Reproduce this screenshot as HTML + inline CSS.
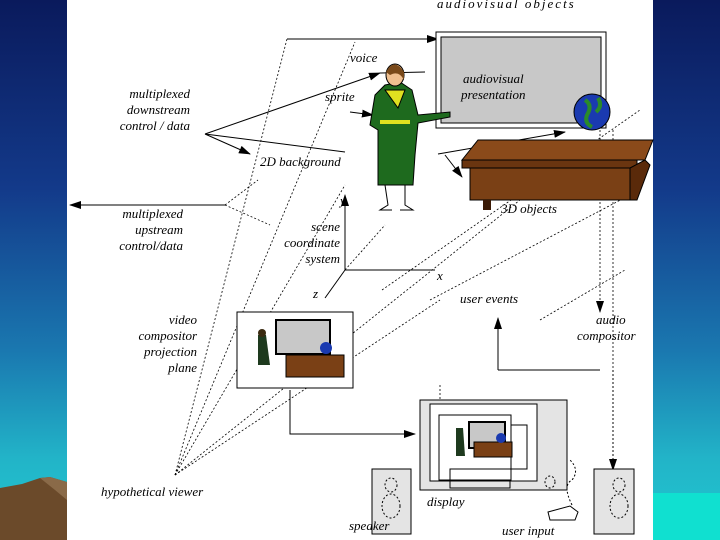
<!DOCTYPE html>
<html><head><meta charset="utf-8"><style>
html,body{margin:0;padding:0;width:720px;height:540px;overflow:hidden}
body{background:linear-gradient(#0a1a5c 0%,#133a8a 35%,#1a78b0 65%,#22b4c8 85%,#20c8d0 100%)}
svg{position:absolute;left:0;top:0}
text{font-family:"Liberation Serif",serif;font-style:italic;font-size:13px;fill:#000}
</style></head><body>
<svg width="720" height="540" viewBox="0 0 720 540">
<defs><marker id="a" markerWidth="12" markerHeight="8" refX="11" refY="4" orient="auto" markerUnits="userSpaceOnUse"><path d="M0,0L12,4L0,8z" fill="#000"/></marker></defs>
<rect x="653" y="493" width="67" height="47" fill="#10e0d0"/>
<path d="M0,540 L0,488 L22,484 L40,478 L50,477 L67,482 L67,540z" fill="#6b4a2a"/>
<path d="M40,478 L50,477 L67,482 L67,500 L55,490z" fill="#8a6a48"/>
<rect x="67" y="0" width="586" height="540" fill="#fff"/>
<g stroke="#000" fill="none" stroke-width="1">
<line x1="287" y1="39" x2="438" y2="39" marker-end="url(#a)"/>
<line x1="205" y1="134" x2="380" y2="73" marker-end="url(#a)"/>
<line x1="380" y1="73" x2="425" y2="72"/>
<line x1="205" y1="134" x2="345" y2="152"/>
<line x1="205" y1="134" x2="250" y2="154" marker-end="url(#a)"/>
<line x1="350" y1="112" x2="373" y2="115" marker-end="url(#a)"/>
<line x1="438" y1="154" x2="565" y2="132" marker-end="url(#a)"/>
<line x1="445" y1="155" x2="462" y2="177" marker-end="url(#a)"/>
<line x1="225" y1="205" x2="70" y2="205" marker-end="url(#a)"/>
<line x1="345" y1="270" x2="345" y2="195" marker-end="url(#a)"/>
<line x1="345" y1="270" x2="435" y2="270"/>
<line x1="345" y1="270" x2="325" y2="298"/>
<line x1="498" y1="370" x2="498" y2="318" marker-end="url(#a)"/>
<line x1="498" y1="370" x2="600" y2="370"/>
<path d="M290,390 L290,434 L415,434" marker-end="url(#a)"/>
</g>
<g stroke="#000" fill="none" stroke-width="0.8" stroke-dasharray="2,2">
<line x1="175" y1="475" x2="287" y2="39"/>
<line x1="175" y1="475" x2="355" y2="42"/>
<line x1="175" y1="475" x2="345" y2="185"/>
<line x1="175" y1="475" x2="440" y2="300"/>
<line x1="175" y1="475" x2="520" y2="200"/>
<line x1="225" y1="205" x2="258" y2="180"/>
<line x1="225" y1="205" x2="270" y2="225"/>
<line x1="345" y1="270" x2="385" y2="225"/>
<line x1="382" y1="290" x2="640" y2="110"/>
<line x1="430" y1="300" x2="630" y2="195"/>
<line x1="540" y1="320" x2="625" y2="270"/>
<line x1="600" y1="130" x2="600" y2="312" marker-end="url(#a)"/>
<line x1="613" y1="130" x2="613" y2="470"/>
<line x1="613" y1="370" x2="613" y2="470" marker-end="url(#a)"/>
<line x1="440" y1="385" x2="440" y2="400"/>
</g>
<rect x="436" y="32" width="170" height="96" fill="#fff" stroke="#000"/>
<rect x="441" y="37" width="160" height="86" fill="#c8c8c8" stroke="#000"/>
<path d="M462,160 L478,140 L653,140 L645,160 Z" fill="#8a4a1a" stroke="#000"/>
<rect x="462" y="160" width="175" height="8" fill="#6a3510" stroke="#000"/>
<path d="M470,168 L630,168 L630,200 L470,200 Z" fill="#7a4015" stroke="#000"/>
<path d="M630,168 L645,160 L650,165 L637,200 L630,200z" fill="#5a2a0a" stroke="#000"/>
<rect x="483" y="200" width="8" height="10" fill="#3a1a05"/>
<circle cx="592" cy="112" r="18" fill="#1a3ab0" stroke="#000"/>
<path d="M585,100 q8,5 2,15 q-3,8 5,12 M598,98 q5,8 -2,14" stroke="#2a8a2a" stroke-width="4" fill="none"/>
<path d="M385,85 L400,82 L412,90 L418,115 L450,112 L450,117 L418,123 L415,155 L413,185 L378,185 L378,130 L370,125 L375,95Z" fill="#1e6a1e" stroke="#000"/>
<ellipse cx="395" cy="75" rx="9" ry="11" fill="#f0c090" stroke="#000"/>
<path d="M386,72 q8,-15 18,0 l0,8 q-5,-10 -14,-5 z" fill="#7a4a1a"/>
<path d="M385,90 L405,90 L398,108 Z" fill="#e0e020" stroke="#000"/>
<rect x="380" y="120" width="30" height="4" fill="#e0e020"/>
<path d="M385,185 L388,205 L380,210 L392,210 M405,185 L405,205 L413,210 L400,210" stroke="#000" fill="none"/>
<rect x="237" y="312" width="116" height="76" fill="#fff" stroke="#000"/>
<rect x="276" y="320" width="54" height="34" fill="#c8c8c8" stroke="#000" stroke-width="2"/>
<rect x="286" y="355" width="58" height="22" fill="#7a4015" stroke="#000"/>
<circle cx="326" cy="348" r="6" fill="#1a3ab0"/>
<path d="M258,335 l8,0 l4,30 l-12,0z" fill="#1e3a1e"/>
<circle cx="262" cy="333" r="4" fill="#3a2a10"/>
<rect x="420" y="400" width="147" height="90" fill="#e4e4e4" stroke="#000"/>
<rect x="430" y="404" width="107" height="77" fill="#fff" stroke="#000"/>
<path d="M440,418 L510,418 L510,488 L450,488 L450,426 L440,426" fill="none" stroke="#000"/>
<rect x="439" y="415" width="72" height="65" fill="#fff" stroke="#000"/>
<path d="M511,425 L527,425 L527,469 L450,469 L450,480" fill="none" stroke="#000"/>
<rect x="469" y="422" width="36" height="26" fill="#c8c8c8" stroke="#000" stroke-width="2"/>
<rect x="474" y="442" width="38" height="15" fill="#7a4015" stroke="#000"/>
<circle cx="501" cy="438" r="5" fill="#1a3ab0"/>
<path d="M456,428 l7,0 l2,28 l-9,0z" fill="#1e3a1e"/>
<ellipse cx="550" cy="482" rx="5" ry="6" fill="none" stroke="#000" stroke-dasharray="2,2"/>
<rect x="372" y="469" width="39" height="65" fill="#e4e4e4" stroke="#000"/>
<ellipse cx="391" cy="485" rx="6" ry="7" fill="none" stroke="#000" stroke-dasharray="2,2"/>
<ellipse cx="391" cy="506" rx="9" ry="12" fill="none" stroke="#000" stroke-dasharray="2,2"/>
<rect x="594" y="469" width="40" height="65" fill="#e4e4e4" stroke="#000"/>
<ellipse cx="619" cy="485" rx="6" ry="7" fill="none" stroke="#000" stroke-dasharray="2,2"/>
<ellipse cx="619" cy="506" rx="9" ry="12" fill="none" stroke="#000" stroke-dasharray="2,2"/>
<path d="M548,512 L570,506 L578,512 L575,520 L550,520Z" fill="#fff" stroke="#000"/>
<path d="M572,505 q-10,-20 0,-25 q8,-10 -2,-20" stroke="#000" fill="none" stroke-dasharray="2,2"/>
<g font-size="13">
<text x="437" y="8" letter-spacing="2">audiovisual objects</text>
<text x="350" y="62">voice</text>
<text x="325" y="101">sprite</text>
<text x="463" y="83">audiovisual</text>
<text x="461" y="99">presentation</text>
<text x="190" y="98" text-anchor="end">multiplexed</text>
<text x="190" y="114" text-anchor="end">downstream</text>
<text x="190" y="130" text-anchor="end">control / data</text>
<text x="260" y="166">2D background</text>
<text x="501" y="213">3D objects</text>
<text x="340" y="205">y</text>
<text x="183" y="218" text-anchor="end">multiplexed</text>
<text x="183" y="234" text-anchor="end">upstream</text>
<text x="183" y="250" text-anchor="end">control/data</text>
<text x="340" y="231" text-anchor="end">scene</text>
<text x="340" y="247" text-anchor="end">coordinate</text>
<text x="340" y="263" text-anchor="end">system</text>
<text x="437" y="280">x</text>
<text x="313" y="298">z</text>
<text x="460" y="303">user events</text>
<text x="197" y="324" text-anchor="end">video</text>
<text x="197" y="340" text-anchor="end">compositor</text>
<text x="197" y="356" text-anchor="end">projection</text>
<text x="197" y="372" text-anchor="end">plane</text>
<text x="596" y="324">audio</text>
<text x="577" y="340">compositor</text>
<text x="101" y="496">hypothetical viewer</text>
<text x="427" y="506">display</text>
<text x="349" y="530">speaker</text>
<text x="502" y="535">user input</text>
</g>
</svg>
</body></html>
